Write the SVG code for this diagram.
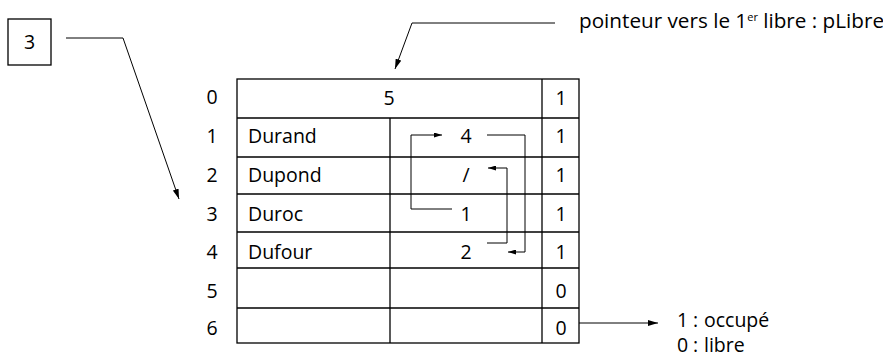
<svg xmlns="http://www.w3.org/2000/svg" width="883" height="359" viewBox="0 0 883 359">
<style>
text{font-family:"Open Sans","Noto Sans","DejaVu Sans",sans-serif;font-size:19.5px;fill:#000}
text.big{font-size:20.7px}
.sup{font-size:11px}
.c{text-anchor:middle}
.grid{stroke:#000;stroke-width:1.3;fill:none}
.ln{stroke:#000;stroke-width:1;fill:none}
</style>
<defs>
<marker id="ah" viewBox="0 0 10 6" refX="10" refY="3" markerWidth="10" markerHeight="6" markerUnits="userSpaceOnUse" orient="auto"><path d="M0,0 L10,3 L0,6 Z" fill="#000"/></marker>
<marker id="sa" viewBox="0 0 8 5" refX="8" refY="2.5" markerWidth="8" markerHeight="5" markerUnits="userSpaceOnUse" orient="auto"><path d="M0,0 L8,2.5 L0,5 Z" fill="#000"/></marker>
</defs>
<g id="var3">
<rect x="8" y="19" width="43" height="46" class="grid"/>
<text x="29.5" y="49" class="c">3</text>
</g>
<g id="pointer-label">
<text x="579" y="28" class="big">pointeur vers le 1<tspan class="sup" dy="-7">er</tspan><tspan dy="7"> libre : pLibre</tspan></text>
</g>
<g id="table">
<rect x="237" y="79" width="342" height="264" class="grid"/>
<line x1="542" y1="79" x2="542" y2="343" class="grid"/>
<line x1="390" y1="118" x2="390" y2="343" class="grid"/>
<line x1="237" y1="118" x2="579" y2="118" class="grid"/>
<line x1="237" y1="157" x2="579" y2="157" class="grid"/>
<line x1="237" y1="194" x2="579" y2="194" class="grid"/>
<line x1="237" y1="232" x2="579" y2="232" class="grid"/>
<line x1="237" y1="268" x2="579" y2="268" class="grid"/>
<line x1="237" y1="308" x2="579" y2="308" class="grid"/>
<text x="212" y="104" class="c">0</text>
<text x="212" y="143" class="c">1</text>
<text x="212" y="182" class="c">2</text>
<text x="212" y="221" class="c">3</text>
<text x="212" y="259" class="c">4</text>
<text x="212" y="298" class="c">5</text>
<text x="212" y="335" class="c">6</text>
<text x="389" y="105" class="c">5</text>
<text x="248" y="143">Durand</text>
<text x="248" y="182">Dupond</text>
<text x="248" y="221">Duroc</text>
<text x="248" y="259">Dufour</text>
<text x="466" y="143" class="c">4</text>
<text x="466" y="182" class="c">/</text>
<text x="466" y="221" class="c">1</text>
<text x="466" y="259" class="c">2</text>
<text x="561" y="105" class="c">1</text>
<text x="561" y="143" class="c">1</text>
<text x="561" y="182" class="c">1</text>
<text x="561" y="221" class="c">1</text>
<text x="561" y="259" class="c">1</text>
<text x="561" y="298" class="c">0</text>
<text x="561" y="335" class="c">0</text>
</g>
<g id="legend">
<text x="677" y="327">1<tspan x="693">:</tspan><tspan x="704">occupé</tspan></text>
<text x="677" y="352">0<tspan x="693">:</tspan><tspan x="704">libre</tspan></text>
</g>
<g id="connectors">
<polyline points="66,38 123,38 179,199" class="ln" marker-end="url(#ah)"/>
<polyline points="555,23 412,23 395,69" class="ln" marker-end="url(#ah)"/>
<line x1="579" y1="323" x2="658" y2="323" class="ln" marker-end="url(#ah)"/>
<polyline points="452,209 411,209 411,135 442,135" class="ln" marker-end="url(#sa)"/>
<polyline points="487,135 525,135 525,252 508,252" class="ln" marker-end="url(#sa)"/>
<polyline points="487,243 507,243 507,168 488,168" class="ln" marker-end="url(#sa)"/>
</g>
</svg>
